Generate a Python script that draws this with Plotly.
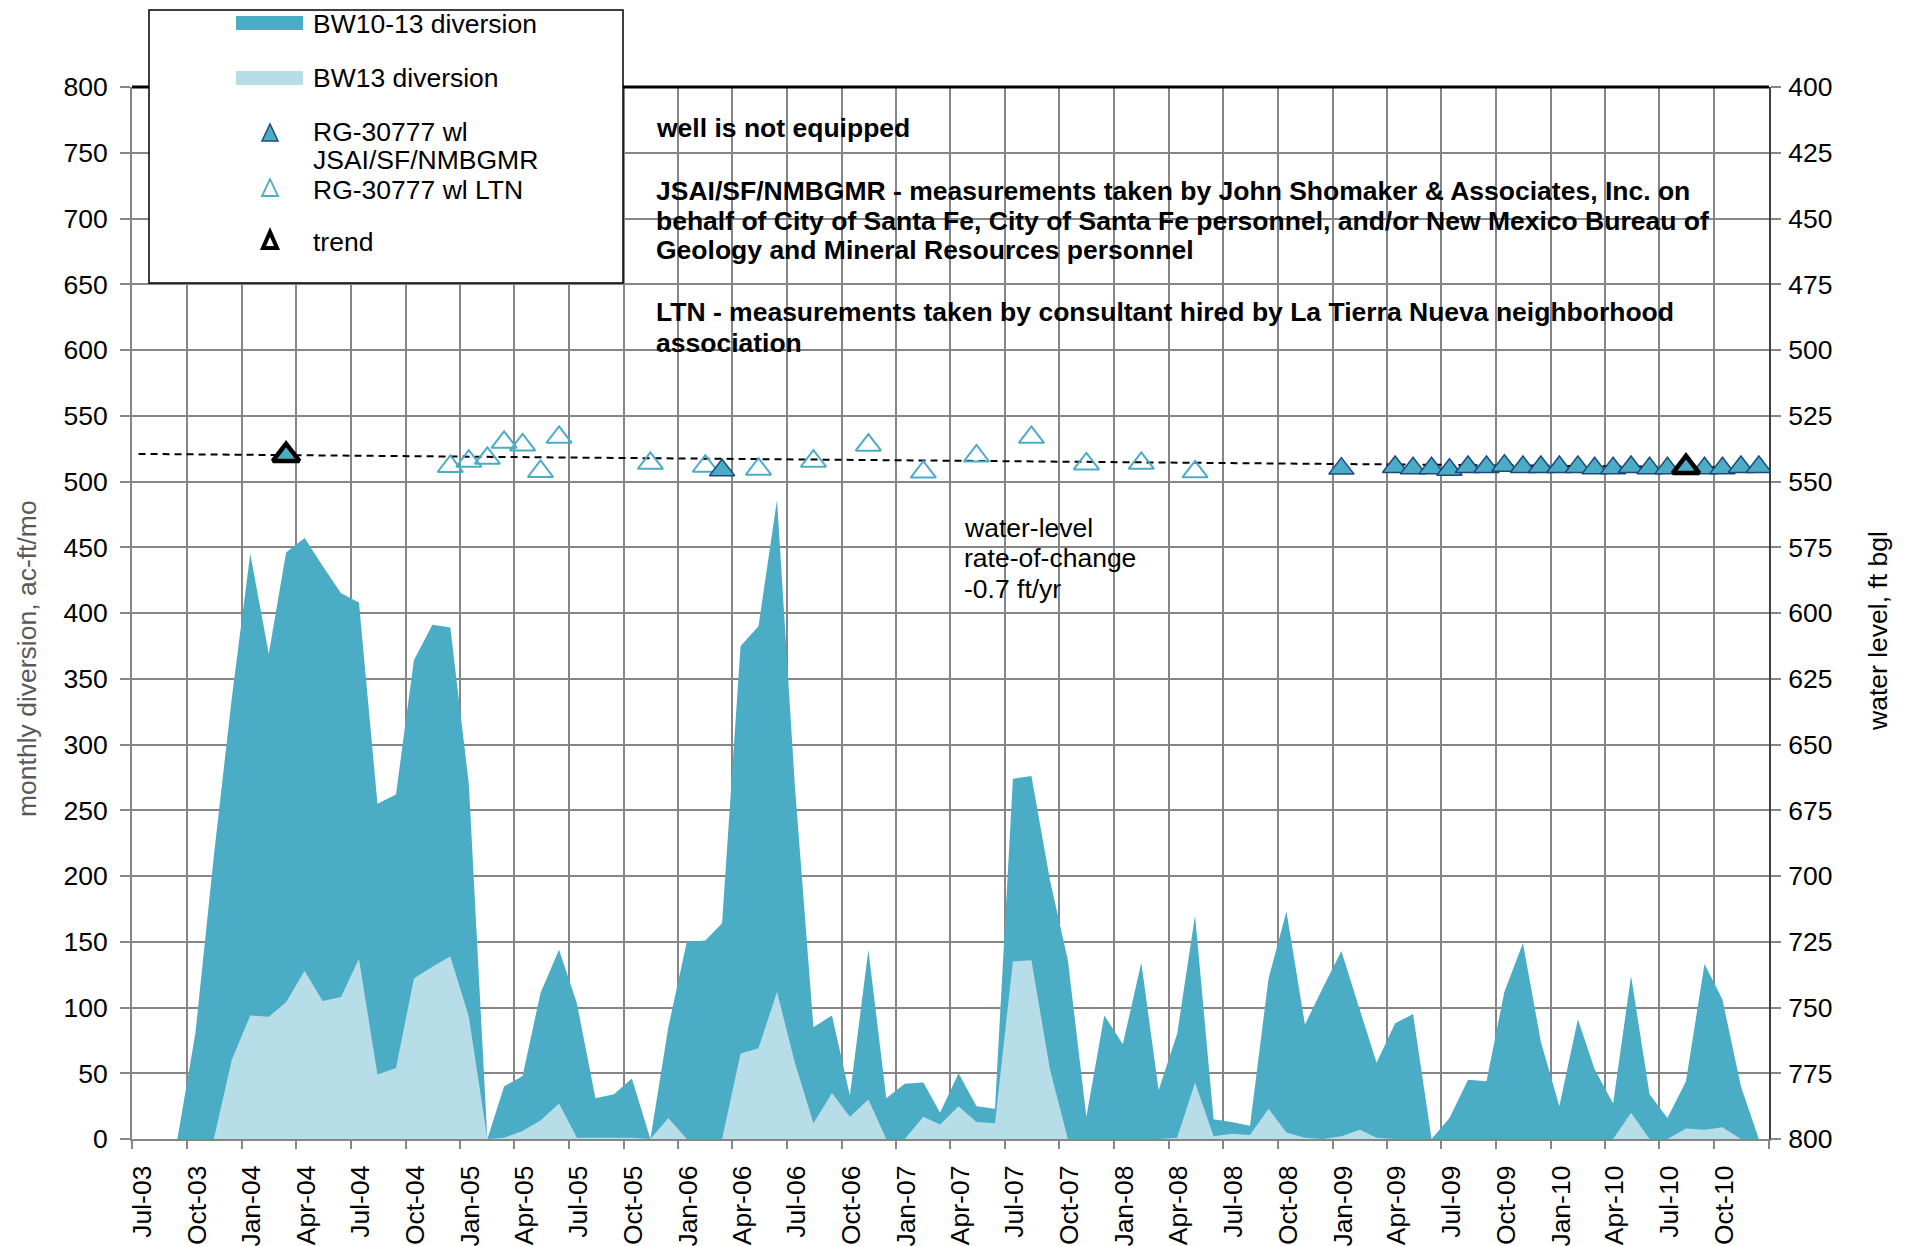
import pandas as pd
import plotly.graph_objects as go

# ---------------- data ----------------
months = pd.date_range("2003-07-01", periods=90, freq="MS") + pd.Timedelta(days=14)

bw10_13 = [0, 0, 0, 80, 215, 335, 445, 369, 446, 457,
           436, 415, 408, 255, 262, 364, 391, 389, 270, 0,
           40, 48, 111, 144, 103, 31, 34, 46, 0, 85,
           150, 151, 164, 375, 390, 486, 268, 85, 94, 33,
           144, 31, 42, 43, 20, 50, 25, 23, 274, 276,
           197, 136, 17, 94, 72, 134, 37, 80, 170, 15,
           13, 10, 122, 173, 87, 115, 143, 98, 58, 88,
           95, 0, 16, 45, 44, 112, 149, 74, 25, 91,
           53, 27, 124, 34, 16, 44, 133, 106, 40, 0]

bw13 = [0, 0, 0, 0, 0, 60, 94, 93, 104, 128,
        105, 108, 137, 49, 54, 122, 131, 139, 93, 0,
        1, 6, 14, 27, 1, 1, 1, 1, 0, 16,
        0, 0, 0, 65, 69, 112, 58, 12, 35, 17,
        30, 0, 0, 17, 11, 25, 13, 12, 135, 136,
        53, 0, 0, 0, 0, 0, 0, 1, 43, 2,
        4, 3, 23, 5, 1, 0, 2, 7, 1, 0,
        0, 0, 0, 0, 0, 0, 0, 0, 0, 0,
        0, 0, 20, 0, 0, 8, 7, 9, 0, 0]

jsai_dates = ["2004-03-15", "2006-03-15", "2009-01-15",
              "2009-04-15", "2009-05-15", "2009-06-15", "2009-07-15", "2009-08-15",
              "2009-09-15", "2009-10-15", "2009-11-15", "2009-12-15", "2010-01-15",
              "2010-02-15", "2010-03-15", "2010-04-15", "2010-05-15", "2010-06-15",
              "2010-07-15", "2010-08-15", "2010-09-15", "2010-10-15", "2010-11-15",
              "2010-12-15"]
jsai_wl = [540.2, 545.7, 545.1,
           544.5, 545.0, 545.0, 545.5, 544.5,
           544.5, 544.0, 544.5, 544.5, 544.5,
           544.5, 545.0, 545.0, 544.5, 545.0,
           545.0, 545.0, 545.0, 545.0, 544.5,
           544.5]

ltn_dates = ["2004-12-15", "2005-01-15", "2005-02-15", "2005-03-15", "2005-04-15",
             "2005-05-15", "2005-06-15", "2005-11-15", "2006-02-15", "2006-05-15",
             "2006-08-15", "2006-11-15", "2007-02-15", "2007-05-15", "2007-08-15",
             "2007-11-15", "2008-02-15", "2008-05-15"]
ltn_wl = [544.3, 542.3, 541.2, 535.1, 536.1,
          546.2, 533.2, 543.1, 544.2, 545.3,
          542.3, 536.2, 546.4, 540.3, 533.2,
          543.3, 543.1, 546.3]

trend_dates = ["2004-03-15", "2010-08-15"]
trend_wl = [540.0, 544.6]
trend_line_dates = ["2003-07-12", "2010-12-20"]
trend_line_wl = [539.5, 544.7]

tick_dates = pd.date_range("2003-07-01", "2011-01-01", freq="3MS")
tick_labels = [d.strftime("%b-%y") for d in tick_dates[:-1]] + [""]

# ---------------- styling ----------------
DARK = "#4BACC6"
LIGHT = "#B7DDE8"
NAVY = "#1F497D"
GRID = "#868686"
FONT = "Liberation Sans, Arial, sans-serif"
FS = 26.5

W_FIG, H_FIG = 1912, 1246
L, R, T, B = 132, 1769, 87, 1139
PW, PH = R - L, B - T


def pxx(X):
    return (X - L) / PW


def pxy(Y):
    return (B - Y) / PH


fig = go.Figure()

fig.add_trace(go.Scatter(x=months, y=bw10_13, name="BW10-13 diversion", mode="none",
                         fill="tozeroy", fillcolor=DARK, showlegend=False))
fig.add_trace(go.Scatter(x=months, y=bw13, name="BW13 diversion", mode="none",
                         fill="tozeroy", fillcolor=LIGHT, showlegend=False))

fig.add_trace(go.Scatter(x=trend_line_dates, y=trend_line_wl, yaxis="y2", mode="lines",
                         line=dict(color="black", width=2, dash="7px,5px"),
                         name="trend line", showlegend=False))
fig.add_trace(go.Scatter(x=ltn_dates, y=ltn_wl, yaxis="y2", mode="markers",
                         name="RG-30777 wl LTN", showlegend=False,
                         marker=dict(symbol="triangle-up-open", size=22,
                                     color=DARK, line=dict(color=DARK, width=2))))
fig.add_trace(go.Scatter(x=jsai_dates, y=jsai_wl, yaxis="y2", mode="markers",
                         name="RG-30777 wl JSAI/SF/NMBGMR", showlegend=False,
                         marker=dict(symbol="triangle-up", size=22, color=DARK,
                                     line=dict(color=NAVY, width=1.5))))
fig.add_trace(go.Scatter(x=trend_dates, y=trend_wl, yaxis="y2", mode="markers",
                         name="trend", showlegend=False,
                         marker=dict(symbol="triangle-up-open", size=23, color="black",
                                     line=dict(color="black", width=4.5))))

shapes = []
# top border
shapes.append(dict(type="line", xref="paper", yref="paper", x0=0, x1=1, y0=1, y1=1,
                   line=dict(color="black", width=3), layer="above"))
# legend box
shapes.append(dict(type="rect", xref="paper", yref="paper",
                   x0=pxx(149), x1=pxx(623), y0=pxy(283), y1=pxy(10),
                   fillcolor="white", line=dict(color="black", width=1.5), layer="above"))
shapes.append(dict(type="rect", xref="paper", yref="paper",
                   x0=pxx(236), x1=pxx(303), y0=pxy(30), y1=pxy(16),
                   fillcolor=DARK, line=dict(width=0), layer="above"))
shapes.append(dict(type="rect", xref="paper", yref="paper",
                   x0=pxx(236), x1=pxx(303), y0=pxy(85), y1=pxy(71),
                   fillcolor=LIGHT, line=dict(width=0), layer="above"))
tri = "M -8,-8 L 8,-8 L 0,9 Z"
shapes.append(dict(type="path", xref="paper", yref="paper", xsizemode="pixel", ysizemode="pixel",
                   xanchor=pxx(270), yanchor=pxy(133), path=tri,
                   fillcolor=DARK, line=dict(color=NAVY, width=1.5), layer="above"))
shapes.append(dict(type="path", xref="paper", yref="paper", xsizemode="pixel", ysizemode="pixel",
                   xanchor=pxx(270), yanchor=pxy(188), path=tri,
                   fillcolor="white", line=dict(color=DARK, width=1.8), layer="above"))
shapes.append(dict(type="path", xref="paper", yref="paper", xsizemode="pixel", ysizemode="pixel",
                   xanchor=pxx(270), yanchor=pxy(240), path="M -7,-8 L 7,-8 L 0,8 Z",
                   fillcolor="white", line=dict(color="black", width=4), layer="above"))

annotations = []


def note(text, X, Y, bold=False, color="black", angle=0, xanchor="left"):
    annotations.append(dict(text=("<b>%s</b>" % text) if bold else text,
                            xref="paper", yref="paper", x=pxx(X), y=pxy(Y),
                            xanchor=xanchor, yanchor="middle", showarrow=False,
                            textangle=angle,
                            font=dict(family=FONT, size=FS, color=color)))


# legend texts
note("BW10-13 diversion", 311, 24)
note("BW13 diversion", 311, 78)
note("RG-30777 wl", 311, 132)
note("JSAI/SF/NMBGMR", 311, 160)
note("RG-30777 wl LTN", 311, 190)
note("trend", 311, 242)

# body notes
note("well is not equipped", 654, 128, bold=True)
note("JSAI/SF/NMBGMR - measurements taken by John Shomaker &amp; Associates, Inc. on", 654, 191, bold=True)
note("behalf of City of Santa Fe, City of Santa Fe personnel, and/or New Mexico Bureau of", 654, 221, bold=True)
note("Geology and Mineral Resources personnel", 654, 250, bold=True)
note("LTN - measurements taken by consultant hired by La Tierra Nueva neighborhood", 654, 312, bold=True)
note("association", 654, 343, bold=True)

note("water-level", 962, 528)
note("rate-of-change", 962, 558)
note("-0.7 ft/yr", 962, 589)

# axis titles
note("monthly diversion, ac-ft/mo", 27, 659, color="#595959", angle=-90, xanchor="center")
note("water level, ft bgl", 1878, 631, angle=-90, xanchor="center")

fig.update_layout(
    width=W_FIG, height=H_FIG,
    margin=dict(l=L, r=W_FIG - R, t=T, b=H_FIG - B, pad=0, autoexpand=False),
    paper_bgcolor="white", plot_bgcolor="white",
    font=dict(family=FONT, size=FS, color="black"),
    showlegend=False,
    shapes=shapes, annotations=annotations,
    xaxis=dict(type="date", range=["2003-07-01", "2011-01-01"], automargin=False,
               tickvals=list(tick_dates), ticktext=tick_labels, tickangle=-90,
               showgrid=True, gridcolor=GRID, gridwidth=2,
               showline=True, linecolor=GRID, linewidth=2,
               ticks="outside", ticklen=8, tickcolor=GRID, tickwidth=2,
               ticklabelshift=10, ticklabelstandoff=6,
               tickfont=dict(family=FONT, size=FS, color="black"), zeroline=False),
    yaxis=dict(range=[0, 800], tick0=0, dtick=50, automargin=False,
               showgrid=True, gridcolor=GRID, gridwidth=2,
               showline=True, linecolor=GRID, linewidth=2,
               ticks="outside", ticklen=10, tickcolor=GRID, tickwidth=2,
               ticklabelstandoff=7,
               tickfont=dict(family=FONT, size=FS, color="black"), zeroline=False),
    yaxis2=dict(overlaying="y", side="right", range=[800, 400], tick0=400, dtick=25,
                automargin=False,
                showgrid=False, showline=True, linecolor="#404040", linewidth=2,
                ticks="outside", ticklen=10, tickcolor=GRID, tickwidth=2,
                ticklabelstandoff=2,
                tickfont=dict(family=FONT, size=FS, color="black"), zeroline=False),
)

fig.write_html("out.html", config={"displayModeBar": False},
               post_script="document.body.style.margin='0';")
